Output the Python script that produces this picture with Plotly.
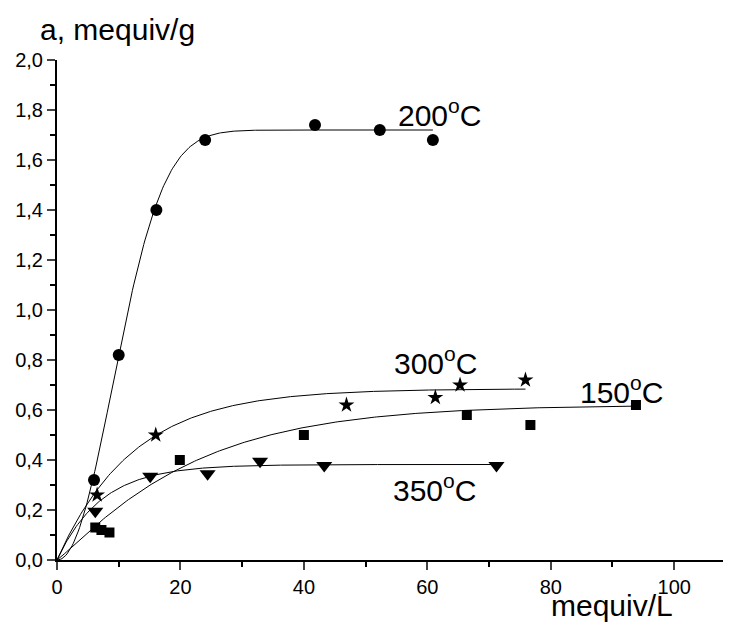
import numpy as np
import plotly.graph_objects as go

# ---- data ----
x_150 = [6.2, 7.2, 8.5, 19.9, 40.0, 66.4, 76.7, 93.8]
y_150 = [0.13, 0.12, 0.11, 0.40, 0.50, 0.58, 0.54, 0.62]

x_200 = [6.0, 10.0, 16.1, 24.0, 41.8, 52.3, 60.9]
y_200 = [0.32, 0.82, 1.40, 1.68, 1.74, 1.72, 1.68]

x_300 = [6.5, 16.0, 46.9, 61.3, 65.3, 75.9]
y_300 = [0.26, 0.50, 0.62, 0.65, 0.70, 0.72]

x_350 = [6.2, 15.1, 24.4, 32.9, 43.3, 71.2]
y_350 = [0.195, 0.335, 0.345, 0.395, 0.378, 0.378]

labels = ["150<sup>o</sup>C", "200<sup>o</sup>C", "300<sup>o</sup>C", "350<sup>o</sup>C"]
label_x = [84.4, 54.9, 54.3, 54.1]
label_y = [0.68, 1.79, 0.795, 0.29]

y_ticks = [0.0, 0.2, 0.4, 0.6, 0.8, 1.0, 1.2, 1.4, 1.6, 1.8, 2.0]
x_ticks = [0, 20, 40, 60, 80, 100]

# fitted-curve parameters (saturation model: A*(1-exp(-(x/lam)^k)))
fit_150 = dict(A=0.62, lam=22.0, k=1.1)
fit_200 = dict(A=1.72, lam=12.3, k=2.1)
fit_300 = dict(A=0.685, lam=12.3, k=1.0)
fit_350 = dict(A=0.382, lam=7.2, k=1.0)


def curve(p, xmax):
    xs = np.linspace(0, xmax, 300)
    ys = p["A"] * (1 - np.exp(-(xs / p["lam"]) ** p["k"]))
    return xs, ys


FONT = "Liberation Sans, Arial, sans-serif"
fig = go.Figure()

series = [
    (x_150, y_150, fit_150, "square", 10),
    (x_200, y_200, fit_200, "circle", 12),
    (x_300, y_300, fit_300, "star", 12),
    (x_350, y_350, fit_350, "triangle-down", 14),
]
for xs, ys, p, sym, size in series:
    cx, cy = curve(p, max(xs))
    fig.add_trace(go.Scatter(x=cx, y=cy, mode="lines",
                             line=dict(color="black", width=1),
                             hoverinfo="skip", showlegend=False))
    fig.add_trace(go.Scatter(x=xs, y=ys, mode="markers",
                             marker=dict(symbol=sym, size=size, color="black",
                                         line=dict(width=0)),
                             showlegend=False))

for t, lx, ly in zip(labels, label_x, label_y):
    fig.add_annotation(x=lx, y=ly, xref="x", yref="y", text=t, showarrow=False,
                       xanchor="left", yanchor="middle",
                       font=dict(family=FONT, size=30, color="black"))

fig.add_annotation(x=-0.028, y=1.06, xref="paper", yref="paper",
                   text="a, mequiv/g", showarrow=False,
                   xanchor="left", yanchor="middle",
                   font=dict(family=FONT, size=30, color="black"))
fig.add_annotation(x=0.917, y=-0.09, xref="paper", yref="paper",
                   text="mequiv/L", showarrow=False,
                   xanchor="right", yanchor="middle",
                   font=dict(family=FONT, size=30, color="black"))

TICKFONT = dict(family=FONT, size=20, color="black")
fig.update_layout(
    width=723, height=618,
    margin=dict(l=49, r=0, t=52, b=66),
    plot_bgcolor="white", paper_bgcolor="white",
    separators=",.",
    font=dict(family=FONT, size=20, color="black"),
    xaxis=dict(range=[0, 109.2], tickvals=x_ticks, ticks="outside", ticklen=8,
               tickwidth=2, showline=True, linewidth=2, linecolor="black",
               showgrid=False, zeroline=False, automargin=False,
               tickfont=TICKFONT,
               minor=dict(ticks="outside", ticklen=5, tickwidth=2, dtick=10,
                          tickcolor="black", showgrid=False)),
    yaxis=dict(range=[0, 2.0], tickvals=y_ticks, tickformat=".1f",
               ticks="outside", ticklen=8, tickwidth=2, showline=True,
               linewidth=2, linecolor="black", showgrid=False, zeroline=False,
               automargin=False, tickfont=TICKFONT,
               minor=dict(ticks="outside", ticklen=5, tickwidth=2, dtick=0.1,
                          tickcolor="black", showgrid=False)),
)

fig.write_html("out.html")
